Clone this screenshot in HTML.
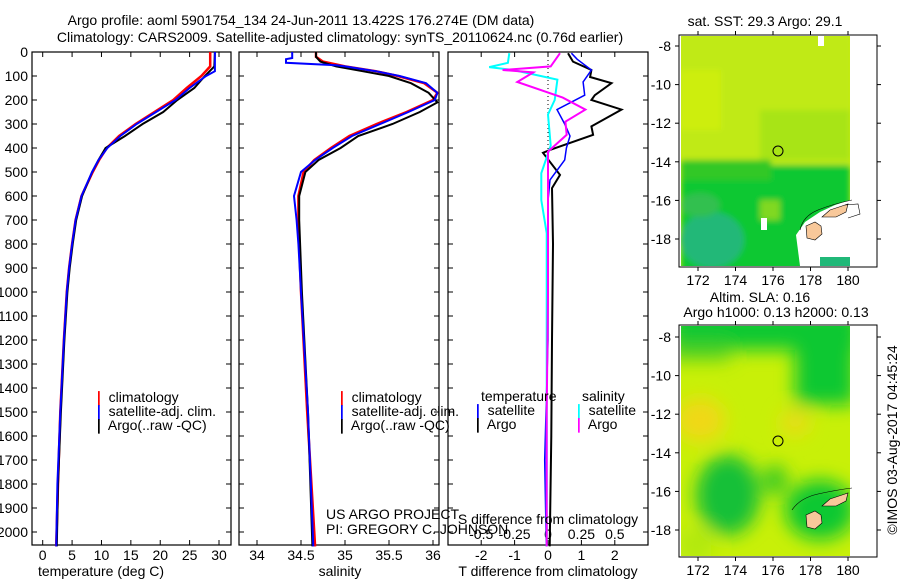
<!DOCTYPE html>
<html><head><meta charset="utf-8">
<style>
body{margin:0;background:#fff;}
svg{display:block;font-family:"Liberation Sans",sans-serif;}
text{font-size:14px;fill:#000;}
</style></head>
<body>
<svg id="c" width="900" height="580" viewBox="0 0 900 580" xmlns="http://www.w3.org/2000/svg">
<defs>
<filter id="bl" x="-20%" y="-20%" width="140%" height="140%"><feGaussianBlur stdDeviation="9"/></filter>
<filter id="bl2"><feGaussianBlur stdDeviation="3"/></filter>
<clipPath id="m1c"><rect x="681" y="36" width="169" height="230"/></clipPath>
<clipPath id="m2c"><rect x="681" y="326" width="169" height="230"/></clipPath>
</defs>
<text x="301" y="25" text-anchor="middle">Argo profile: aoml 5901754_134 24-Jun-2011 13.422S 176.274E (DM data)</text>
<text x="340" y="42" text-anchor="middle">Climatology: CARS2009. Satellite-adjusted climatology: synTS_20110624.nc (0.76d earlier)</text>
<g id="g"></g>

<!-- Map 1 -->
<g clip-path="url(#m1c)">
<rect x="681" y="36" width="169" height="230" fill="#c4ec14"/>
<g filter="url(#bl2)">
<rect x="681" y="36" width="169" height="130" fill="#c0ea12"/>
<rect x="681" y="70" width="40" height="60" fill="#cdee10"/>
<rect x="760" y="110" width="90" height="50" fill="#a8e414"/>
<rect x="681" y="165" width="169" height="110" fill="#10c830"/>
<rect x="681" y="160" width="90" height="20" fill="#30c828"/>
<ellipse cx="712" cy="240" rx="32" ry="28" fill="#20b878"/>
<ellipse cx="700" cy="205" rx="20" ry="12" fill="#30c050"/>
<rect x="760" y="200" width="20" height="20" fill="#80d820"/>
</g>
<rect x="818" y="36" width="6" height="10" fill="#fff"/>
<path d="M800 266 L796 235 L805 222 L820 212 L835 205 L850 200 L850 266 Z" fill="#fff"/>
<rect x="761" y="218" width="6" height="12" fill="#fff"/>
<rect x="820" y="257" width="30" height="9" fill="#20b878"/>
</g>
<rect x="679" y="35" width="198" height="232" fill="none" stroke="#000"/>
<path d="M806 226 L815 222 L821 226 L822 234 L815 240 L807 238 Z" fill="#f8c89a" stroke="#000" stroke-width="0.6"/>
<path d="M822 217 L830 210 L842 206 L848 204 L846 212 L836 217 Z" fill="#f8c89a" stroke="#000" stroke-width="0.6"/>
<path d="M800 230 Q803 216 818 210 T852 200 M845 205 L858 204 L860 214 L848 218" fill="none" stroke="#000" stroke-width="0.6"/>
<circle cx="778" cy="151" r="5" fill="none" stroke="#000"/>
<text x="765" y="26" text-anchor="middle">sat. SST: 29.3 Argo: 29.1</text>
<text x="760" y="302" text-anchor="middle">Altim. SLA: 0.16</text>
<text x="776" y="317" text-anchor="middle">Argo h1000: 0.13 h2000: 0.13</text>

<!-- Map 2 -->
<g clip-path="url(#m2c)">
<rect x="681" y="326" width="169" height="230" fill="#c8f008"/>
<g filter="url(#bl)">
<rect x="670" y="310" width="190" height="40" fill="#10c830"/>
<rect x="795" y="340" width="60" height="65" fill="#10c830"/>
<rect x="670" y="345" width="60" height="15" fill="#50d020"/>
<ellipse cx="700" cy="420" rx="25" ry="22" fill="#f0d818"/>
<ellipse cx="795" cy="423" rx="15" ry="13" fill="#e8dc18"/>
<ellipse cx="728" cy="495" rx="32" ry="40" fill="#18c038"/>
<ellipse cx="820" cy="510" rx="35" ry="30" fill="#10c830"/>
<ellipse cx="775" cy="480" rx="12" ry="15" fill="#30c828"/>
<rect x="681" y="530" width="30" height="30" fill="#b0e810"/>
</g>
</g>
<rect x="679" y="325" width="198" height="232" fill="none" stroke="#000"/>
<path d="M806 515 L815 511 L821 515 L822 523 L815 529 L807 527 Z" fill="#f8c89a" stroke="#000" stroke-width="0.6"/>
<path d="M822 506 L830 499 L842 495 L848 493 L846 501 L836 506 Z" fill="#f8c89a" stroke="#000" stroke-width="0.6"/>
<path d="M792 510 Q800 498 818 494 T852 488" fill="none" stroke="#000" stroke-width="0.6"/>
<circle cx="778" cy="441" r="5" fill="none" stroke="#000"/>
<text transform="translate(897,440) rotate(-90)" text-anchor="middle">©IMOS 03-Aug-2017 04:45:24</text>

<text x="93" y="402"><tspan fill="#f00" font-weight="bold">❘</tspan> climatology</text>
<text x="93" y="416"><tspan fill="#00f" font-weight="bold">❘</tspan> satellite-adj. clim.</text>
<text x="93" y="430"><tspan fill="#000" font-weight="bold">❘</tspan> Argo(..raw -QC)</text>
<text x="336" y="402"><tspan fill="#f00" font-weight="bold">❘</tspan> climatology</text>
<text x="336" y="416"><tspan fill="#00f" font-weight="bold">❘</tspan> satellite-adj. clim.</text>
<text x="336" y="430"><tspan fill="#000" font-weight="bold">❘</tspan> Argo(..raw -QC)</text>
<text x="481" y="401">temperature</text>
<text x="472" y="415"><tspan fill="#00f" font-weight="bold">❘</tspan> satellite</text>
<text x="472" y="429"><tspan fill="#000" font-weight="bold">❘</tspan> Argo</text>
<text x="582" y="401">salinity</text>
<text x="573" y="415"><tspan fill="#0ff" font-weight="bold">❘</tspan> satellite</text>
<text x="573" y="429"><tspan fill="#f0f" font-weight="bold">❘</tspan> Argo</text>
<text x="326" y="519">US ARGO PROJECT</text>
<text x="326" y="534">PI: GREGORY C. JOHNSON</text>
<text x="548" y="524" text-anchor="middle">S difference from climatology</text>
<text x="101" y="576" text-anchor="middle">temperature (deg C)</text>
<text x="340" y="576" text-anchor="middle">salinity</text>
<text x="548" y="576" text-anchor="middle">T difference from climatology</text>
</svg>
<script>
const depthTicks=[0,100,200,300,400,500,600,700,800,900,1000,1100,1200,1300,1400,1500,1600,1700,1800,1900,2000];
const tempTicks=[0,5,10,15,20,25,30];
const salTicks=[34,34.5,35,35.5,36];
const tdTicks=[-2,-1,0,1,2];
const sdTicks=[-0.5,-0.25,0,0.25,0.5];
const sdTickLabels=["-0.5","-0.25","0","0.25","0.5"];
const mapLonTicks=[172,174,176,178,180];
const mapLatTicks=[-8,-10,-12,-14,-16,-18];

const climTdep=[0,60,100,150,200,250,300,350,400,450,500,600,700,800,900,1000,1200,1500,1800,2060];
const climT=[28.5,28.5,27,24.5,22.2,19,15.8,13,10.9,9.6,8.5,6.6,5.6,5,4.5,4.1,3.6,3,2.6,2.3];
const satTdep=[0,80,100,150,200,250,300,350,400,450,500,600,700,800,900,1000,1200,1500,1800,2060];
const satT=[29.3,29.3,27.8,25,22.6,19.3,16,13.2,11,9.5,8.4,6.6,5.6,5,4.5,4.1,3.6,3,2.5,2.3];
const argoTdep=[0,60,100,150,200,250,300,350,400,450,500,600,700,800,900,1000,1200,1500,1800,2060];
const argoT=[29.3,29.2,27.6,25.8,22.9,20.5,17,14,10.7,9.5,8.4,6.7,5.7,5.1,4.6,4.2,3.7,3.1,2.6,2.4];

const climSdep=[0,20,40,60,80,100,130,170,200,250,300,350,400,450,500,600,700,800,1000,1500,2060];
const climS=[34.67,34.67,34.75,35.0,35.35,35.6,35.9,36.05,36.0,35.7,35.36,35.05,34.84,34.65,34.53,34.47,34.47,34.48,34.5,34.57,34.66];
const satSdep=[0,25,30,45,55,60,80,100,130,170,200,250,300,350,400,450,500,600,700,800,1000,1500,2060];
const satS=[34.4,34.4,34.33,34.33,34.9,35.0,35.35,35.62,35.92,36.05,36.02,35.72,35.4,35.08,34.86,34.66,34.5,34.42,34.45,34.47,34.5,34.58,34.64];
const argoSdep=[0,20,40,60,80,100,130,170,210,250,300,350,400,450,500,600,700,800,1000,1500,2060];
const argoS=[34.67,34.67,34.72,34.9,35.2,35.5,35.75,35.95,36.05,35.85,35.54,35.15,34.95,34.7,34.55,34.48,34.48,34.49,34.51,34.58,34.63];

const dTdep=[5,40,75,104,130,180,200,240,310,345,408,420,512,567,800,1200,1600,2060];
const argoDT=[0.6,0.75,1.3,1.26,1.9,1.4,1.3,2.2,1.3,1.35,0.06,-0.15,0.36,0.12,0.15,0.12,0.1,0.05];
const sdTdep=[5,30,75,125,180,240,300,350,400,450,533,620,800,1200,1700,2060];
const satDT=[0.7,0.87,1.3,1.05,1.1,0.27,0.5,0.66,0.55,0.5,0.06,0,0,0,-0.1,-0.05];
const dSdep=[5,60,75,85,125,190,240,290,345,415,600,1000,1500,2060];
const argoDS=[0.09,0.02,-0.34,-0.11,-0.23,0.11,0.28,0.13,0.14,0,0,0,-0.01,-0.01];
const sSdep=[5,45,63,75,115,200,260,390,505,617,755,1200,2060];
const satDS=[-0.29,-0.3,-0.44,-0.26,0.07,0.05,0,0.02,-0.05,-0.05,-0.01,-0.01,-0.01];

const NS="http://www.w3.org/2000/svg";
const G=document.getElementById('g');
const top0=52,bot=545;
function yD(d){return top0+d*0.24;}
function xT(t){return 42.7+t*(219-42.7)/30;}
function xS(s){return 257+(s-34)*88;}
function xDT(v){return 548+v*33.4;}
function xDS(v){return 548+v*133.6;}
function mk(tag,at){const e=document.createElementNS(NS,tag);for(const k in at)e.setAttribute(k,at[k]);G.appendChild(e);return e;}

const panels=[{x:32,w:199,n:'temperature-panel'},{x:239,w:200,n:'salinity-panel'},{x:448,w:200,n:'difference-panel'}];
panels.forEach(p=>{
  const r=mk('rect',{x:p.x,y:top0,width:p.w,height:bot-top0,fill:'none',stroke:'#000','stroke-width':1.2});
  
  
  depthTicks.forEach(d=>{mk('line',{x1:p.x,x2:p.x+5,y1:yD(d),y2:yD(d),stroke:'#000'});mk('line',{x1:p.x+p.w-5,x2:p.x+p.w,y1:yD(d),y2:yD(d),stroke:'#000'});});
});
depthTicks.forEach(d=>{
  const t=mk('text',{x:28,y:yD(d)+5,'text-anchor':'end'});t.textContent=d;
  
  
});
function xticks(arr,fx,labels,ly){
  arr.forEach((v,i)=>{const x=fx(v);
    mk('line',{x1:x,x2:x,y1:bot,y2:bot-5,stroke:'#000'});mk('line',{x1:x,x2:x,y1:top0,y2:top0+5,stroke:'#000'});
    const t=mk('text',{x:x,y:ly,'text-anchor':'middle'});t.textContent=labels?labels[i]:v;
    
    
  });
}
xticks(tempTicks,xT,null,560);
xticks(salTicks,xS,null,560);
xticks(tdTicks,xDT,null,560);
sdTicks.forEach((v,i)=>{const t=mk('text',{x:xDS(v),y:539,'text-anchor':'middle'});t.textContent=sdTickLabels[i];
  
  });
mk('line',{x1:548,x2:548,y1:top0,y2:yD(450),stroke:'#000','stroke-dasharray':'1,3'});

function line(deps,vals,fx,col,name,w){
  const pts=deps.map((d,i)=>fx(vals[i]).toFixed(1)+','+yD(d).toFixed(1)).join(' ');
  const e=mk('polyline',{points:pts,fill:'none',stroke:col,'stroke-width':w||2});
  
  
}
line(climTdep,climT,xT,'#f00','temp-climatology-line',2.5);
line(argoTdep,argoT,xT,'#000','temp-argo-line',2);
line(satTdep,satT,xT,'#00f','temp-satellite-line',2);
line(climSdep,climS,xS,'#f00','sal-climatology-line',2.5);
line(argoSdep,argoS,xS,'#000','sal-argo-line',2);
line(satSdep,satS,xS,'#00f','sal-satellite-line',2);
line(dTdep,argoDT,xDT,'#000','tdiff-argo-line',2);
line(sdTdep,satDT,xDT,'#00f','tdiff-satellite-line',1.5);
line(sSdep,satDS,xDS,'#0ff','sdiff-satellite-line',2);
line(dSdep,argoDS,xDS,'#f0f','sdiff-argo-line',2);

function lonX(l){return 698+(l-172)*18.75;}
[[35,267,46],[325,557,337]].forEach(m=>{
  const [t,b,y8]=m;
  mapLonTicks.forEach(l=>{const x=lonX(l);
    mk('line',{x1:x,x2:x,y1:t,y2:t-4,stroke:'#000'});mk('line',{x1:x,x2:x,y1:b,y2:b+4,stroke:'#000'});
    const tx=mk('text',{x:x,y:b+18,'text-anchor':'middle'});tx.textContent=l;
    
    });
  mapLatTicks.forEach(l=>{const y=y8+(-8-l)*19.3;
    mk('line',{x1:679,x2:675,y1:y,y2:y,stroke:'#000'});mk('line',{x1:877,x2:881,y1:y,y2:y,stroke:'#000'});
    const tx=mk('text',{x:671,y:y+5,'text-anchor':'end'});tx.textContent=l;
    
    });
});
</script>
</body></html>
